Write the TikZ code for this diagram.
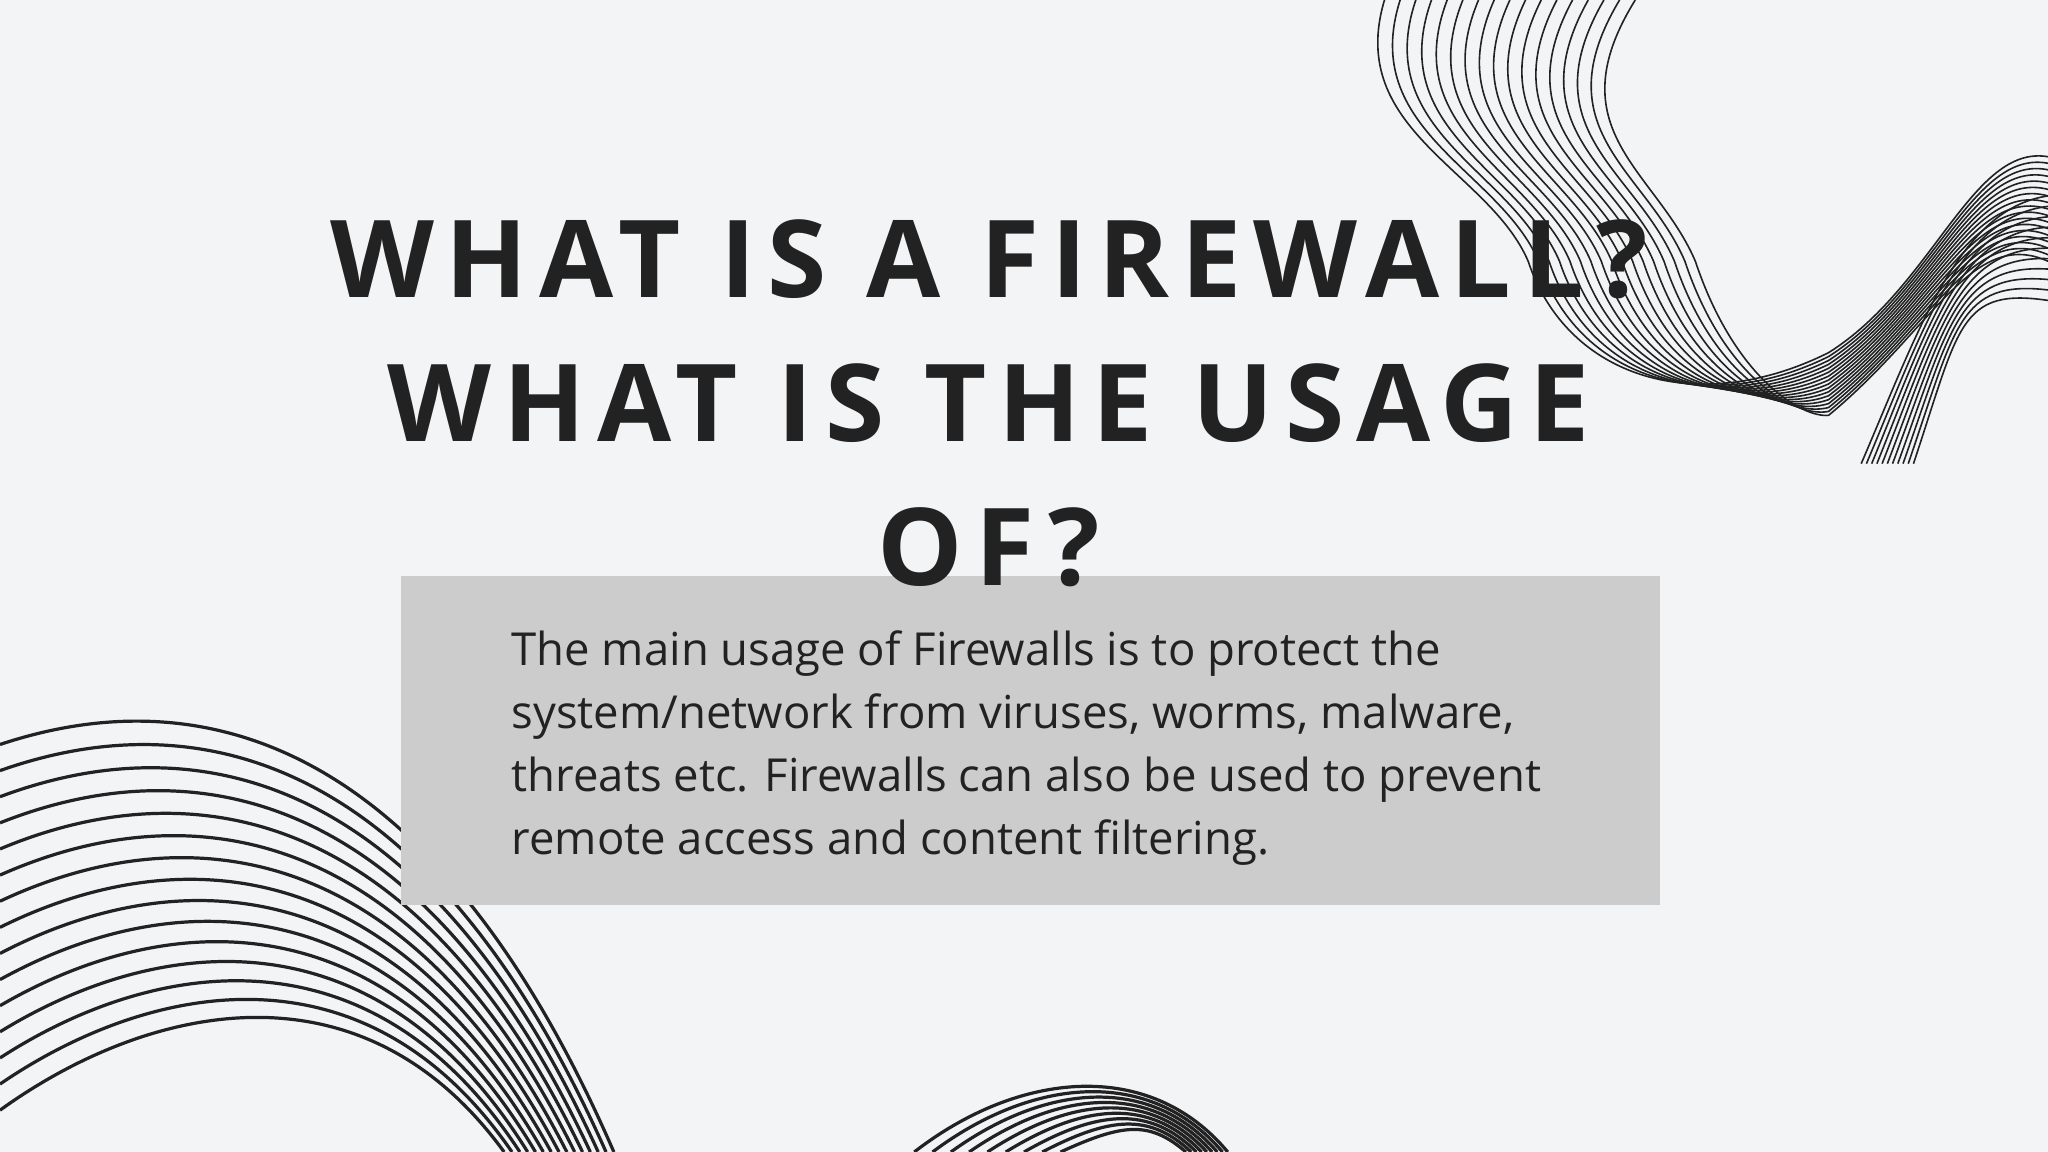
\documentclass[tikz,border=0pt]{standalone}
\usepackage{fontspec}
\setmainfont{Open Sans}
\newfontfamily\titlefont[LetterSpace=11]{Open Sans Bold}
\definecolor{bg}{HTML}{F3F4F6}
\definecolor{boxgray}{HTML}{CCCCCC}
\definecolor{ink}{HTML}{222222}
\begin{document}
\begin{tikzpicture}[x=0.01cm,y=-0.01cm,
  wave/.style={draw=ink,line width=0.35pt},
  wavebold/.style={draw=ink,line width=0.7pt},
  ttl/.style={text=ink,inner sep=0,font=\titlefont\fontsize{23.4pt}{30pt}\selectfont,anchor=base}]
\fill[bg] (0,0) rectangle (1568,882);
\useasboundingbox (0,0) rectangle (1568,882);
% top right waves
\foreach \i in {0,...,16}{
  \draw[wave] (1060+\i*12,0) .. controls (1030+\i*10,100) and (1140+\i*8,130) .. (1170+\i*8,200)
     .. controls (1200+\i*8,290) and (1300+\i*5,320) .. (1400,270+\i*3)
     .. controls (1480,220+\i*2) and (1510,110+\i*4) .. (1568,120+\i*5);
}
\foreach \i in {0,...,10}{
  \draw[wave] (1425+\i*4,355) .. controls (1470+\i*3,250) and (1500,160+\i*6) .. (1568,150+\i*8);
}
% bottom left waves
\foreach \i in {0,...,14}{
  \draw[wavebold] (0,570+\i*20) .. controls (150-\i*3,520+\i*18) and (330-\i*4,560+\i*12) .. (470-\i*6,882);
}
% bottom middle waves
\foreach \i in {0,...,8}{
  \draw[wavebold] (700+\i*14,882) .. controls (780+\i*10,820+\i*5) and (880,810+\i*6) .. (940-\i*4,882);
}
% box
\fill[boxgray] (307,441) rectangle (1271,693);
\node[anchor=north west,align=left,text=ink,inner sep=0,font=\fontsize{9.9pt}{13.7pt}\selectfont] (body) at (391,482)
 {The main usage of Firewalls is to protect the\\system/network from viruses, worms, malware,\\threats etc. Firewalls can also be used to prevent\\remote access and content filtering.};
% title
\node[ttl] (t1) at (757,228) {WHAT IS A FIREWALL?};
\node[ttl] (t2) at (757,338) {WHAT IS THE USAGE};
\node[ttl] (t3) at (757,448) {OF?};
\end{tikzpicture}
\end{document}
